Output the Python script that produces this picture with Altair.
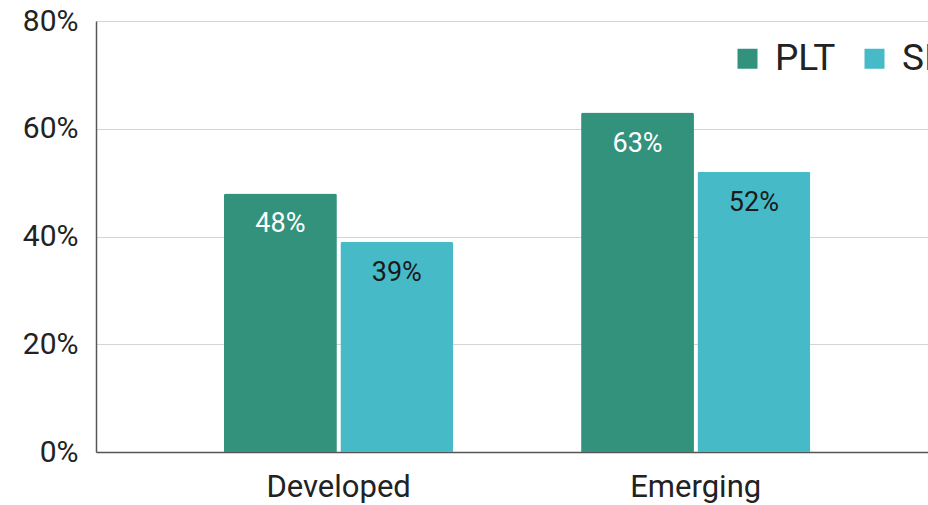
import altair as alt
import pandas as pd

# Share of respondents by market type
categories = ["Developed", "Emerging"]
series_names = ["PLT", "SI"]
plt_values = [0.48, 0.63]
si_values = [0.39, 0.52]

colors = ["#33927C", "#46BBC7"]

rows = []
for i, cat in enumerate(categories):
    rows.append({"market": cat, "series": "PLT", "share": plt_values[i]})
    rows.append({"market": cat, "series": "SI", "share": si_values[i]})
df = pd.DataFrame(rows)

FONT = "Roboto"

x_enc = alt.X(
    "market:N",
    sort=categories,
    title=None,
    scale=alt.Scale(paddingInner=0.358, paddingOuter=0.344, align=0.521),
    axis=alt.Axis(
        labelAngle=0,
        labelFontSize=31,
        labelFont=FONT,
        labelColor="#222222",
        labelPadding=20,
        ticks=False,
        domainColor="#555555",
        domainWidth=1.5,
        grid=False,
    ),
)
y_enc = alt.Y(
    "share:Q",
    title=None,
    scale=alt.Scale(domain=[0, 0.8], nice=False),
    axis=alt.Axis(
        format=".0%",
        values=[0, 0.2, 0.4, 0.6, 0.8],
        labelFontSize=30,
        labelFont=FONT,
        labelColor="#222222",
        labelPadding=18,
        ticks=False,
        domainColor="#555555",
        domainWidth=1.5,
        gridColor="#d4d4d4",
        gridWidth=1,
    ),
)
x_off = alt.XOffset(
    "series:N",
    sort=series_names,
    scale=alt.Scale(paddingInner=0.03, paddingOuter=0),
)

bars = alt.Chart(df).mark_bar(cornerRadiusTopLeft=2, cornerRadiusTopRight=2).encode(
    x=x_enc,
    y=y_enc,
    xOffset=x_off,
    color=alt.Color(
        "series:N",
        sort=series_names,
        scale=alt.Scale(domain=series_names, range=colors),
        legend=alt.Legend(
            title=None,
            orient="none",
            legendX=633,
            legendY=19,
            direction="horizontal",
            symbolType="square",
            symbolSize=400,
            symbolStrokeWidth=0,
            labelFontSize=37,
            labelFont=FONT,
            labelColor="#222222",
            labelOffset=9,
            columnPadding=20,
            padding=0,
        ),
    ),
)

labels = alt.Chart(df).mark_text(
    font=FONT, fontSize=27, baseline="middle", dy=31
).encode(
    x=alt.X("market:N", sort=categories),
    y="share:Q",
    xOffset=alt.XOffset("series:N", sort=series_names),
    text=alt.Text("share:Q", format=".0%"),
    color=alt.condition(
        "datum.series === 'PLT'", alt.value("#ffffff"), alt.value("#1a1a1a")
    ),
)

chart = (
    alt.layer(bars, labels)
    .properties(
        width=832,
        height=431,
        autosize=alt.AutoSizeParams(type="none"),
        padding={"left": 96, "top": 21, "right": 0, "bottom": 53},
        background="white",
    )
    .configure_view(stroke=None)
)

chart.save("out.html", embed_options={"renderer": "svg", "actions": False})
